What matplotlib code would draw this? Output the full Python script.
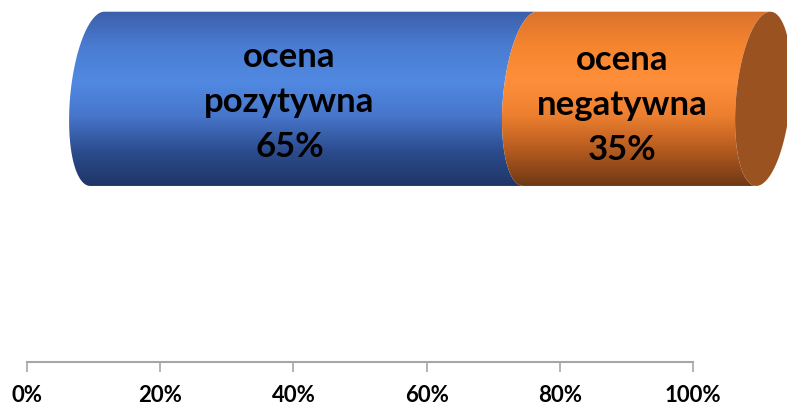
import numpy as np
import matplotlib.pyplot as plt
from matplotlib.path import Path
from matplotlib.patches import PathPatch
from matplotlib.colors import LinearSegmentedColormap

labels = ["ocena\npozytywna", "ocena\nnegatywna"]
values = [0.65, 0.35]
ticks = [0, 0.2, 0.4, 0.6, 0.8, 1.0]
tick_labels = ["0%", "20%", "40%", "60%", "80%", "100%"]

# gradient stops top -> bottom for each segment
shades = [
    ["#3b5fa9", "#4a7cd2", "#5189e2", "#4776cb", "#2c4c8e", "#1f3566"],
    ["#d9732c", "#f6852f", "#ff8f3a", "#ec7e2f", "#b35a1f", "#6e3814"],
]
cap_color = "#9a5221"

depth = 0.116    # 3d offset of the bar front
rx = 0.041       # ellipse semi-width (data units)
yc, ry = 0.725, 0.24
skew = 0.021     # bottom shifted left relative to top

plt.rcParams["font.family"] = ["Lato", "DejaVu Sans"]
fig = plt.figure(figsize=(7.87, 4.06), dpi=100)
ax = fig.add_axes([27 / 787, 43 / 406, 760 / 787, 363 / 406])


def arc(xc, t0, t1, n=60):
    t = np.linspace(t0, t1, n)
    y = yc + ry * np.sin(t)
    x = xc + rx * np.cos(t) - skew * (yc + ry - y) / (2 * ry)
    return np.column_stack([x, y])


starts = np.concatenate([[0], np.cumsum(values)[:-1]])
for i, (s, v) in enumerate(zip(starts, values)):
    x0 = s + depth
    x1 = s + v + depth
    # left half of ellipse at x0 (top->bottom), then left half at x1 (bottom->top)
    left = arc(x0, np.pi / 2, 3 * np.pi / 2)
    right = arc(x1, 3 * np.pi / 2, np.pi / 2)
    verts = np.vstack([left, right, left[:1]])
    patch = PathPatch(Path(verts, closed=True), facecolor="none",
                      edgecolor="none")
    ax.add_patch(patch)
    cmap = LinearSegmentedColormap.from_list("seg%d" % i, shades[i])
    grad = np.linspace(0, 1, 256).reshape(-1, 1)
    im = ax.imshow(grad, cmap=cmap, aspect="auto",
                   extent=[x0 - rx - skew, x1 + rx, yc - ry, yc + ry],
                   origin="upper", zorder=2 + i)
    im.set_clip_path(patch)

    ax.text(s + v / 2 + depth - 0.047, yc - 0.01 * i - 0.005,
            "%s\n%d%%" % (labels[i], round(v * 100)),
            ha="center", va="center", fontsize=25, fontweight="bold",
            linespacing=1.5, zorder=10)

# right cap
end = sum(values) + depth
cap = arc(end, 0, 2 * np.pi, 120)
ax.add_patch(PathPatch(Path(cap, closed=True), facecolor=cap_color,
                       edgecolor="none", zorder=5))

ax.set_xlim(0, 760 / 666)
ax.set_ylim(0, 1)
ax.set_xticks(ticks)
ax.set_xticklabels(tick_labels)
ax.set_yticks([])
for sp in ["top", "left", "right"]:
    ax.spines[sp].set_visible(False)
ax.spines["bottom"].set_bounds(0, 1)
ax.spines["bottom"].set_color("#a6a6a6")
ax.spines["bottom"].set_linewidth(1.5)
ax.tick_params(axis="x", direction="out", length=7, width=1.2, color="#a6a6a6",
               pad=9, labelsize=16)
for t in ax.get_xticklabels():
    t.set_fontweight("bold")
ax.patch.set_alpha(0)

fig.savefig("out.png", dpi=100)
